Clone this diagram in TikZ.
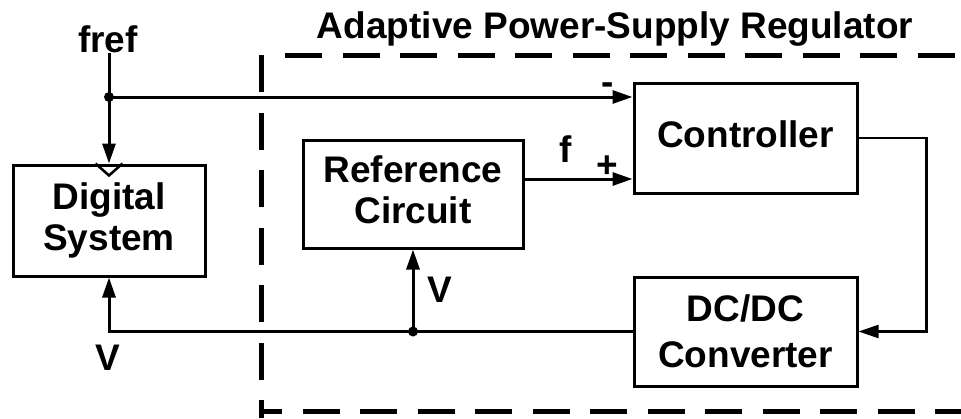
\documentclass[tikz,border=0pt]{standalone}
\usepackage{fontspec}
\setmainfont{Liberation Sans}
\usetikzlibrary{arrows.meta}

\begin{document}
\begin{tikzpicture}[x=1pt, y=-1pt, >={Triangle[length=20pt,width=13pt]}, line width=3pt,
    font=\fontsize{37}{41}\selectfont\bfseries,
    blk/.style={draw, rectangle, align=center, inner sep=0pt, text depth=8pt},
    lbl/.style={inner sep=0pt, anchor=base},
    jdot/.style={circle, fill, inner sep=0pt, minimum size=10pt},
    regline/.style={line width=5pt, dash pattern=on 37pt off 20.5pt}]
    \useasboundingbox (0,0) rectangle (961,418);

    \draw[regline] (285,55) -- (961,55);
    \draw[regline] (261,55) -- (261,418);
    \draw[regline, dash phase=16pt] (261,411) -- (961,411);
    \node[lbl] (title) at (615,38) {Adaptive Power-Supply Regulator};

    \node[blk, minimum width=192pt, minimum height=111pt] (dsys) at (109,220.5) {Digital\\System};
    \node[blk, minimum width=220pt, minimum height=108pt] (refc) at (413,194) {Reference\\Circuit};
    \node[blk, minimum width=223pt, minimum height=110pt] (ctrl) at (745.5,138) {Controller};
    \node[blk, minimum width=223pt, minimum height=109pt, text depth=0pt] (dcdc) at (745.5,331.5) {DC/DC\\[5pt]Converter};

    \coordinate (fin) at (109,53);
    \coordinate (jf) at (109,97);
    \coordinate (jv) at (refc.south |- dcdc.west);

    \draw[->] (fin) -- (dsys.north);
    \draw[->] (jf) -- (jf -| ctrl.west);
    \draw[->] ([yshift=15pt]refc.east) -- ([yshift=15pt]refc.east -| ctrl.west);
    \draw[->, line width=2.2pt] (ctrl.east) -- ++(68,0) |- (dcdc.east);
    \draw[->] (dcdc.west) -| (dsys.south);
    \draw[->] (jv) -- (refc.south);
    \draw[line width=2.5pt] ([xshift=-13.5pt]dsys.north) -- ++(13.5,12) -- ++(13.5,-12);

    \node[jdot] (dotf) at (jf) {};
    \node[jdot] (dotv) at (jv) {};

    \node[lbl] (frefl) at (108,52) {fref};
    \node[lbl] (minus) at (608,94) {-};
    \node[lbl] (fl) at (566,162) {f};
    \node[lbl] (plus) at (607,177) {+};
    \node[lbl] (vref) at (440,302) {V};
    \node[lbl] (vsys) at (108,370) {V};
\end{tikzpicture}
\end{document}
